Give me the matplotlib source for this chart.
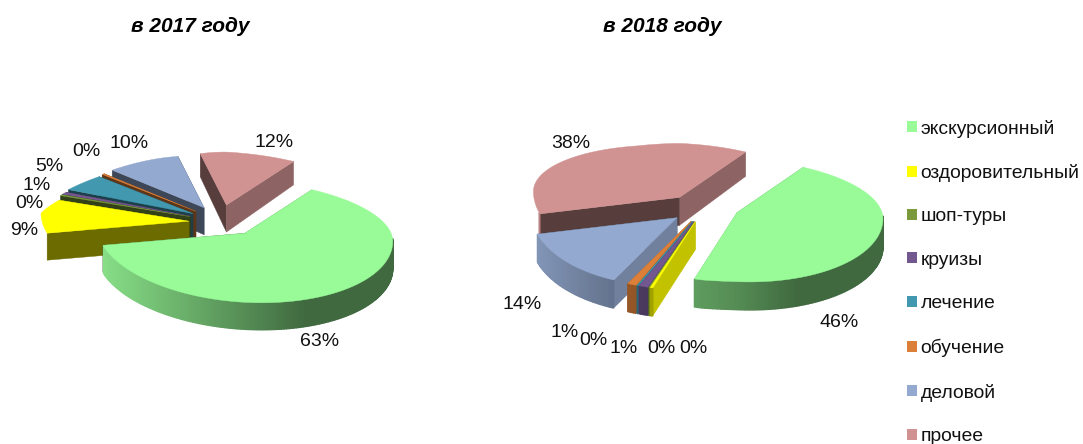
import numpy as np
import matplotlib
matplotlib.use("Agg")
import matplotlib.pyplot as plt
from matplotlib.patches import Patch

plt.rcParams['font.family'] = ['Liberation Sans', 'DejaVu Sans']

categories = ['экскурсионный', 'оздоровительный', 'шоп-туры', 'круизы',
              'лечение', 'обучение', 'деловой', 'прочее']
values_2017 = [62.9, 8.8, 0.3, 0.7, 5.0, 0.3, 10.2, 11.8]
values_2018 = [45.8, 0.3, 0.1, 1.0, 0.1, 1.0, 14.0, 37.7]
titles = ['в 2017 году', 'в 2018 году']
colors = ['#98FB98', '#FFFF00', '#7A9A3C', '#72588F',
          '#4298AF', '#DC8039', '#93A9CF', '#D09391']

W, H = 1083, 444
fig = plt.figure(figsize=(W / 100, H / 100), dpi=100, facecolor='white')
ax = fig.add_axes([0, 0, 1, 1])
ax.set_xlim(0, W)
ax.set_ylim(H, 0)
ax.axis('off')


def shade(col, m):
    return tuple(np.array(matplotlib.colors.to_rgb(col)) * m)


def draw_pie(values, hub, expl, rx, ry_top, ry_bot, depth, warp, tilt, front, start_deg, label_xy):
    vals = np.array(values, float)
    sweep = vals / vals.sum() * 360
    edges = start_deg + np.concatenate([[0], np.cumsum(sweep)])
    mids = (edges[:-1] + edges[1:]) / 2
    order = np.argsort(-np.cos(np.radians(mids)))
    for i in order:
        t0, t1 = edges[i], edges[i + 1]
        m = np.radians(mids[i])
        ax_x = hub[0] + expl[0] * np.sin(m)
        ax_y = hub[1] - expl[1] * np.cos(m)

        def pt(tdeg):
            t = np.radians(tdeg)
            s, c = np.sin(t), np.cos(t)
            f = 1 - warp * c if (s < 0 and c > 0) else 1
            extra = front * c * c * min(1, abs(s) / 0.15) if (s < 0 and c < 0) else 0
            if c <= 0:
                ry = ry_bot
            elif s < 0:
                ry = ry_top - min(2, 7 * abs(s))
            else:
                ry = ry_top
            return (ax_x + rx * s * f - extra, ax_y + tilt * s - c * ry)

        n = max(2, int(np.ceil(t1 - t0)) + 1)
        ts = np.linspace(t0, t1, n)
        rim = np.array([pt(t) for t in ts])
        col = colors[i]

        # radial side walls, the one facing further back first
        walls = sorted(((t0, rim[0]), (t1, rim[-1])),
                       key=lambda w: -np.cos(np.radians(w[0])))
        for tdeg, p in walls:
            t = np.radians(tdeg)
            s, c = np.sin(t), np.cos(t)
            b = 0.68 if s > 0 else (0.42 if c > -0.6 else 0.76)
            d_rim = depth * (1 - 0.15 * max(c, 0))
            ax.fill([ax_x, p[0], p[0], ax_x],
                    [ax_y, p[1], p[1] + d_rim, ax_y + depth],
                    color=shade(col, b), lw=0.3)
        # outer wall with left-to-right gradient
        for j in range(n - 1):
            tm = np.radians((ts[j] + ts[j + 1]) / 2)
            sm, cm = np.sin(tm), np.cos(tm)
            if not (cm < -0.3 or (sm > 0 and cm < 0.05)):
                continue
            b = 0.9 - 0.48 * np.clip((sm + 1) / 1.4, 0, 1)
            a, d = rim[j], rim[j + 1]
            ax.fill([a[0], d[0], d[0], a[0]],
                    [a[1], d[1], d[1] + depth, a[1] + depth],
                    color=shade(col, b), lw=1.0)
        # top face
        ax.fill(np.r_[ax_x, rim[:, 0]], np.r_[ax_y, rim[:, 1]], color=col, lw=0.3)

    for v, (x, y) in zip(vals, label_xy):
        ax.text(x, y, f'{v:.0f}%', ha='center', va='center', fontsize=14, color='#111111')


labels_2017 = [(320, 341), (24, 230), (29, 203), (37, 185), (49, 166), (86, 151), (129, 143), (274, 142)]
labels_2018 = [(839, 322), (693, 348), (661, 348), (624, 348), (593, 340), (565, 332), (522, 304), (571, 143)]

draw_pie(values_2017, (223, 221), (34, 16), 148, 53, 69, 27, 0.35, 8, 0, 27, labels_2017)
draw_pie(values_2018, (703, 208), (36, 14), 146, 54, 69, 28, 0.0, 6, 13, 27, labels_2018)

ax.text(190, 26, titles[0], ha='center', va='center', fontsize=15, fontweight='bold', style='italic')
ax.text(662, 26, titles[1], ha='center', va='center', fontsize=15, fontweight='bold', style='italic')

handles = [Patch(facecolor=c, edgecolor='none') for c in colors]
leg = ax.legend(handles, categories, loc='upper left', bbox_to_anchor=(907 / W, 1 - 119.5 / H),
                bbox_transform=fig.transFigure, frameon=False, fontsize=13.9,
                handlelength=0.5, handleheight=0.5, handletextpad=0.2,
                labelspacing=1.37, borderaxespad=0, borderpad=0)
for t in leg.get_texts():
    t.set_color('#111111')

fig.savefig('out.png', dpi=100)
